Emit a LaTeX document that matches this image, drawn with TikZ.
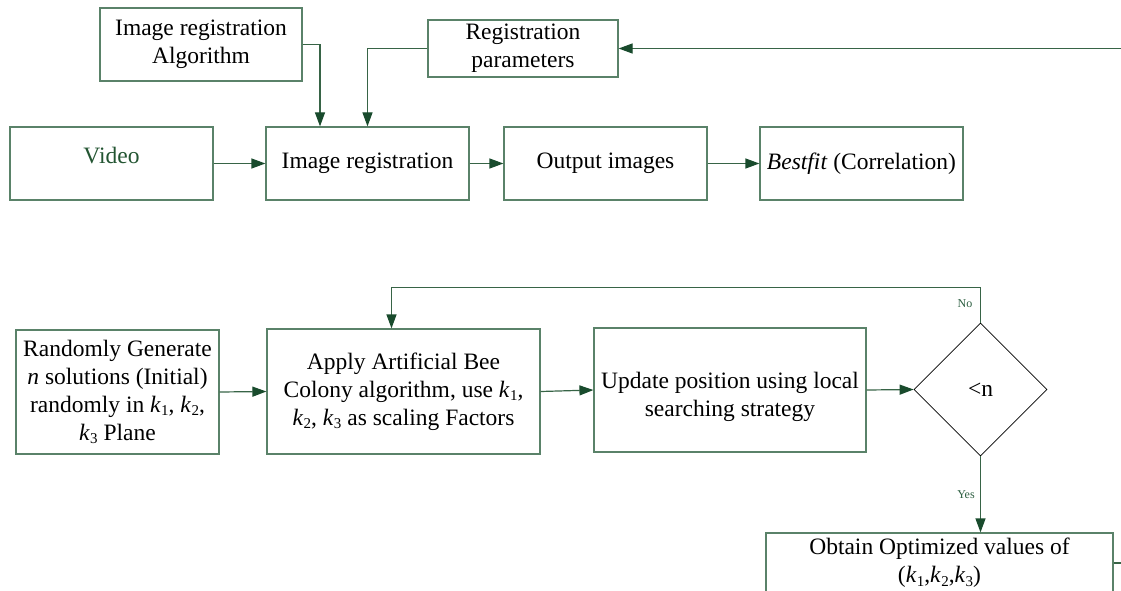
\documentclass[tikz,border=0pt]{standalone}
\usepackage{fontspec}
\setmainfont{Liberation Serif}
\usetikzlibrary{arrows.meta,shapes.geometric}
\definecolor{boxline}{RGB}{90,130,105}
\definecolor{connc}{RGB}{55,100,70}
\definecolor{tipc}{RGB}{25,75,45}
\definecolor{lblc}{RGB}{45,95,65}
\definecolor{videoc}{RGB}{35,85,50}
\newcommand{\kv}[1]{\textit{k}\kern0.3pt\raisebox{-0.3ex}{\fontsize{15}{15}\selectfont #1}}
\begin{document}
\begin{tikzpicture}[x=1pt,y=-1pt,
  box/.style={draw=boxline, line width=1.2pt, rectangle, inner sep=0pt, align=center, font=\fontsize{23.5}{28}\selectfont},
  txt/.style={inner sep=0pt, align=center, font=\fontsize{23.5}{28}\selectfont},
  conn/.style={draw=connc, line width=1.2pt, -{Triangle[length=14pt,width=10pt,color=tipc]}},
  plain/.style={draw=connc, line width=1.2pt},
  lbl/.style={text=lblc, font=\fontsize{12}{12}\selectfont, inner sep=0pt}]
\useasboundingbox (0,0) rectangle (1121,591);
\clip (0,0) rectangle (1121,591);
% top row
\node[box, minimum width=202pt, minimum height=73pt] (alg) at (201,44.5) {Image registration\\Algorithm};
\node[box, minimum width=190pt, minimum height=57pt] (param) at (523,48.5) {Registration\\parameters};
\node[box, minimum width=203pt, minimum height=73pt] (video) at (111.5,163.5) {};
\node[txt, text=videoc] (videot) at (111.5,155.7) {Video};
\node[box, minimum width=203pt, minimum height=73pt] (imreg) at (367.5,163.5) {Image registration};
\node[box, minimum width=203pt, minimum height=73pt] (outimg) at (605.5,163.5) {Output images};
\node[box, minimum width=203pt, minimum height=73pt] (best) at (861.5,163.5) {\textit{Bestfit} (Correlation)};
% bottom row
\node[box, minimum width=203pt, minimum height=124pt] (rand) at (117.5,392) {Randomly Generate\\\textit{n} solutions (Initial)\\randomly in \kv{1}, \kv{2},\\\kv{3} Plane};
\node[box, minimum width=273pt, minimum height=125pt] (abc) at (403.5,391.5) {Apply Artificial Bee\\Colony algorithm, use \kv{1},\\\kv{2}, \kv{3} as scaling Factors};
\node[box, minimum width=272pt, minimum height=124pt] (upd) at (730,390) {};
\node[txt] (updt) at (730,397) {Update position using local\\searching strategy};
\node[diamond, draw=black, line width=0.8pt, minimum width=133pt, minimum height=133pt, inner sep=0pt, font=\fontsize{23.5}{28}\selectfont] (dec) at (980.5,389.5) {<n};
\node[box, minimum width=347pt, minimum height=60pt] (obt) at (939.5,563) {Obtain Optimized values of\\(\kv{1},\kv{2},\kv{3})};
% connectors
\draw[conn] (alg.east) -| ([xshift=-47.5pt]imreg.north);
\draw[conn] (param.west) -| (imreg.north);
\draw[conn] (video.east) -- (imreg.west);
\draw[conn] (imreg.east) -- (outimg.west);
\draw[conn] (outimg.east) -- (best.west);
\coordinate (fbin) at (1121,48.5);
\draw[conn] (fbin) -- (param.east);
\draw[conn] (rand.east) -- (abc.west);
\draw[conn] (abc.east) -- (upd.west);
\draw[conn] (upd.east) -- (dec.west);
\coordinate (loop) at (980.5,287.3);
\draw[conn] (dec.north) -- (loop) -| ([xshift=-12pt]abc.north);
\draw[conn] (dec.south) -- (dec.south |- obt.north);
\coordinate (outr) at (1121,563);
\draw[plain] (obt.east) -- (outr);
\node[lbl] (no) at (965,304) {No};
\node[lbl] (yes) at (966,495) {Yes};
\end{tikzpicture}
\end{document}
